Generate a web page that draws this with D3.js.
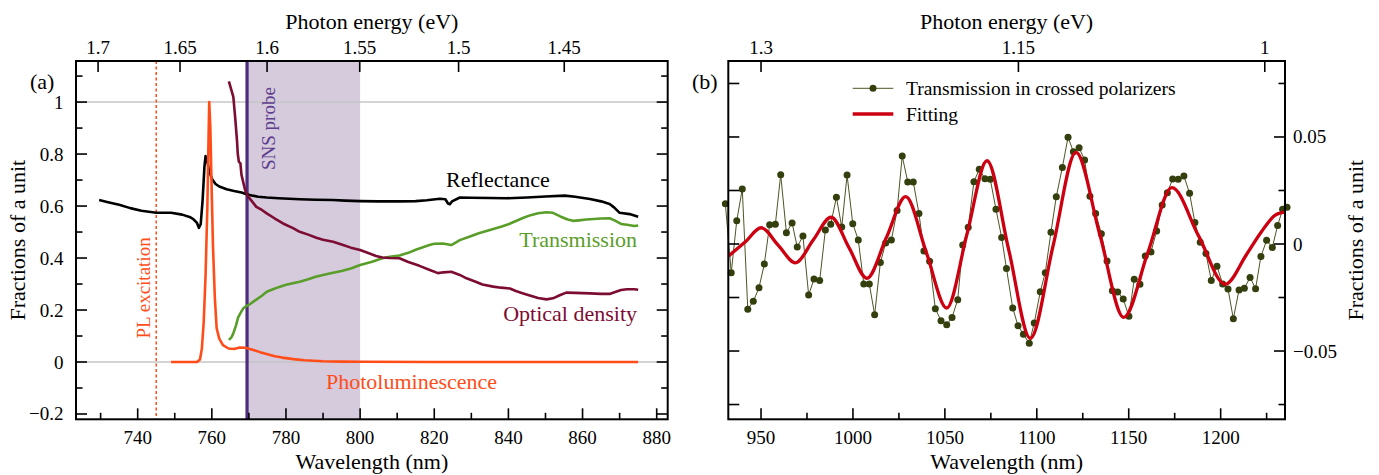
<!DOCTYPE html>
<html>
<head>
<meta charset="utf-8">
<script src="https://cdn.jsdelivr.net/npm/d3@7"></script>
<style>
  html, body { margin: 0; padding: 0; background: #fff; }
  svg, svg text { font-family: "Liberation Serif", "Times New Roman", serif; }
  svg { display: block; }
</style>
</head>
<body>
<svg id="chart" width="1379" height="475"></svg>
<script>
// ---------- Panel (a): spectra, [wavelength nm, fraction] ----------
const reflectance = [
  [729.6,0.623],[732,0.615],[735,0.605],[738,0.592],[741,0.582],[745,0.574],[749,0.574],
  [752,0.567],[754,0.558],[755,0.55],[756,0.535],[756.5,0.516],[757,0.53],[757.5,0.62],
  [758,0.75],[758.3,0.792],[758.7,0.78],[759.2,0.74],[760,0.705],[761,0.685],[762,0.675],
  [764,0.665],[766,0.658],[768,0.652],[769.4,0.645],[771,0.64],[772.5,0.636],[774.8,0.633],
  [778,0.63],[783.7,0.626],[788,0.624],[792.6,0.623],[796,0.621],[800,0.619],[805,0.618],
  [810.7,0.618],[815,0.619],[818,0.622],[821.5,0.628],[823,0.626],[823.7,0.61],[824.2,0.607],
  [824.8,0.618],[826.9,0.633],[830,0.632],[835,0.631],[839.5,0.63],[845,0.633],[850,0.637],
  [855.2,0.64],[858,0.636],[862,0.627],[865,0.618],[867.3,0.608],[868.5,0.595],[870,0.574],
  [872.7,0.569],[875,0.559]
];
const transmission = [
  [764.6,0.085],[765.3,0.095],[765.8,0.11],[766.5,0.14],[767.1,0.172],[767.8,0.19],[768.5,0.207],
  [769.3,0.215],[770.3,0.223],[772,0.24],[773.5,0.255],[774.8,0.27],[776.5,0.28],[778,0.288],
  [780,0.297],[783.7,0.309],[786,0.318],[788,0.328],[790,0.335],[792.7,0.343],[795,0.35],
  [797.5,0.36],[800,0.373],[803,0.385],[806,0.399],[808,0.405],[810.6,0.41],[813,0.42],
  [815,0.432],[818.7,0.45],[820,0.455],[822.3,0.456],[824.6,0.45],[826.9,0.469],[830,0.485],
  [832,0.495],[835,0.508],[838,0.52],[840,0.53],[843.9,0.554],[846,0.565],[848,0.572],
  [850.2,0.576],[852,0.574],[854,0.56],[856,0.548],[857.4,0.543],[859,0.545],[861,0.548],
  [863,0.55],[865,0.552],[867.3,0.553],[868.5,0.546],[870.4,0.531],[872,0.528],[874,0.523],
  [875,0.525]
];
const opticalDensity = [
  [764.6,1.08],[765.2,1.05],[765.8,1.02],[766.3,0.94],[766.8,0.85],[767,0.8],[767.3,0.77],
  [767.7,0.765],[768,0.72],[768.5,0.69],[769,0.66],[769.8,0.636],[771,0.615],[772,0.597],
  [773.5,0.585],[774.8,0.572],[777,0.552],[779.2,0.533],[781.9,0.515],[783.7,0.501],[786,0.49],
  [788.2,0.478],[790,0.47],[792.7,0.463],[795,0.452],[797.5,0.44],[800,0.431],[802,0.42],
  [804.3,0.408],[806,0.402],[808,0.4],[810.6,0.399],[813,0.385],[816,0.37],[818.8,0.354],
  [821,0.342],[822.5,0.345],[824.6,0.347],[826.9,0.335],[828.7,0.322],[831,0.31],[833,0.298],
  [835.9,0.29],[838,0.286],[840.4,0.283],[842,0.273],[844,0.264],[846,0.255],[848,0.246],
  [850.3,0.241],[852,0.245],[854,0.258],[855.6,0.267],[858,0.266],[862,0.264],[865,0.262],
  [867.3,0.262],[869,0.27],[870.4,0.277],[872,0.28],[874,0.28],[875,0.278]
];
const photoluminescence = [
  [749,0],[756,0],[756.8,0.01],[757.3,0.05],[757.8,0.15],[758.3,0.33],[758.8,0.6],[759.1,0.85],
  [759.3,1.0],[759.6,0.9],[759.9,0.7],[760.3,0.45],[760.8,0.25],[761.3,0.13],[762,0.09],
  [763,0.065],[764.5,0.052],[766,0.05],[767.5,0.056],[769,0.055],[771,0.047],[773,0.038],
  [775,0.03],[777,0.022],[779,0.017],[782,0.011],[785,0.007],[790,0.003],[795,0.0015],
  [800,0.001],[820,0],[875,0]
];
const plExcitationNm = 745;
const snsProbeNm = [769.5, 800];   // probe line and end of the probed band

const aWaveTicks = [740, 760, 780, 800, 820, 840, 860, 880];
const aWaveMinor = [730, 750, 770, 790, 810, 830, 850, 870];
const aEnergyTicks = [1.7, 1.65, 1.6, 1.55, 1.5, 1.45];
const aValueTicks = [-0.2, 0, 0.2, 0.4, 0.6, 0.8, 1];
const aValueMinor = [-0.1, 0.1, 0.3, 0.5, 0.7, 0.9, 1.1];
const aGridValues = [0, 1];

// ---------- Panel (b): transmission in crossed polarizers ----------
const crossedNm = [
  930.6,933.8,936.8,939.8,942.8,945.8,948.9,951.8,954.7,957.8,960.7,963.8,966.9,969.7,972.8,
  975.9,978.8,981.9,985.0,987.9,991.0,993.9,996.8,999.9,1002.9,1005.9,1008.9,1011.8,1014.9,
  1017.8,1020.9,1024.0,1026.8,1029.8,1032.8,1035.9,1038.6,1041.7,1044.8,1047.9,1051.0,1053.9,
  1057.0,1059.7,1062.7,1065.8,1068.7,1071.8,1074.7,1077.8,1080.9,1083.5,1086.9,1089.8,1092.7,
  1095.9,1098.6,1101.9,1104.6,1107.7,1110.6,1113.9,1117.0,1119.9,1123.0,1126.0,1128.9,1132.0,
  1135.1,1138.2,1141.1,1144.0,1147.0,1150.1,1153.0,1156.1,1159.0,1162.1,1165.2,1168.2,1171.0,
  1173.9,1176.9,1180.0,1183.1,1186.0,1188.9,1192.0,1194.9,1198.0,1201.1,1204.0,1206.9,1210.0,
  1212.9,1216.0,1219.0,1221.9,1225.0,1228.1,1231.0,1233.7,1236.1
];
const crossedVal = [
  0.0188,-0.0134,0.0109,0.0257,-0.0305,-0.0268,-0.0204,-0.0093,0.0090,0.0092,0.0324,0.0053,
  0.0098,-0.0014,0.0037,-0.0238,-0.0164,-0.0171,0.0065,0.0092,0.0218,0.0079,0.0322,0.0095,
  0.0019,-0.0187,-0.0187,-0.0330,-0.0087,0.0005,0.0019,0.0156,0.0411,0.0290,0.0290,0.0143,
  -0.0033,-0.0081,-0.0302,-0.0358,-0.0377,-0.0343,-0.0260,-0.0005,0.0078,0.0291,0.0349,0.0305,
  0.0302,0.0162,0.0030,-0.0114,-0.0299,-0.0382,-0.0422,-0.0464,-0.0369,-0.0223,-0.0134,0.0055,
  0.0221,0.0358,0.0499,0.0431,0.0450,0.0393,0.0223,0.0143,0.0048,-0.0079,-0.0218,-0.0224,
  -0.0257,-0.0338,-0.0165,-0.0188,-0.0056,-0.0037,0.0061,0.0182,0.0240,0.0304,0.0302,0.0318,
  0.0237,0.0100,0.0008,-0.0044,-0.0170,-0.0104,-0.0187,-0.0210,-0.0349,-0.0215,-0.0207,-0.0156,
  -0.0209,-0.0058,0.0017,-0.0016,0.0087,0.0162,0.0172
];
// fitted curve: turning points and crossings
const fitNm = [932.4,941.5,950,959.4,968.7,978.4,988.1,997.9,1007.6,1018.2,1028.7,1039.9,1051,
  1062,1072.9,1084.7,1096.5,1108.9,1121.3,1134.3,1147.3,1160.4,1173.5,1188,1202.5,1214,1222,
  1229.7,1235.1];
const fitVal = [-0.0056,0.0010,0.0076,-0.0006,-0.0088,0.0019,0.0125,-0.0018,-0.0160,0.0030,
  0.0221,-0.0039,-0.0299,0.0045,0.0389,-0.0026,-0.0441,-0.0007,0.0428,0.0043,-0.0343,-0.0040,
  0.0263,0.0038,-0.0188,-0.0050,0.0055,0.0135,0.0150];

const bWaveTicks = [950, 1000, 1050, 1100, 1150, 1200];
const bWaveMinor = [975, 1025, 1075, 1125, 1175, 1225];
const bEnergyTicks = [1.3, 1.15, 1];
const bEnergyTickNm = [950, 1090, 1224];   // top-axis calibration of panel (b)
const bValueTicks = [-0.05, 0, 0.05];
const bValueMinor = [-0.075, -0.025, 0.025, 0.075];

// ---------- colours ----------
const C = {
  refl: "#000000", trans: "#5a9e2a", od: "#7d0c32", pl: "#ff4d1a",
  probe: "#4b2c7d", probeText: "#5d3e8e", band: "#d6cadd", grid: "#c6c6c6",
  dots: "#333f0c", dotLine: "#4d5525", fit: "#cc0010"
};

// ---------- layout ----------
const A = { l: 76, r: 667.7, t: 61, b: 419.3 };
const B = { l: 728.3, r: 1285, t: 61, b: 419.3 };
const TICK = 11, MINOR = 6.5;
const FONT = "Liberation Serif, Times New Roman, serif";
const fmt = d3.format("~g");

const svg = d3.select("#chart").attr("font-family", FONT);

const xA = d3.scaleLinear().domain([723.36, 882.97]).range([A.l, A.r]);
const yA = d3.scaleLinear().domain([-0.2204, 1.158]).range([A.b, A.t]);
const xB = d3.scaleLinear().domain([932.2, 1235]).range([B.l, B.r]);
const yB = d3.scaleLinear().domain([-0.0819, 0.0855]).range([B.b, B.t]);
const HC = 1239.84;                       // eV·nm
const eB = d3.scaleLinear().domain(bEnergyTicks).range(bEnergyTickNm);

function vTicks(g, vals, y0, dir, len, xs) {
  g.selectAll(null).data(vals).join("line")
    .attr("x1", d => xs(d)).attr("x2", d => xs(d))
    .attr("y1", y0).attr("y2", y0 + dir * len)
    .attr("stroke", "#000").attr("stroke-width", 1.6);
}
function hTicks(g, vals, x0, dir, len, ys) {
  g.selectAll(null).data(vals).join("line")
    .attr("y1", d => ys(d)).attr("y2", d => ys(d))
    .attr("x1", x0).attr("x2", x0 + dir * len)
    .attr("stroke", "#000").attr("stroke-width", 1.6);
}

// ================= Panel (a) =================
const ga = svg.append("g");

// probed band
ga.append("rect")
  .attr("x", xA(snsProbeNm[0])).attr("y", A.t)
  .attr("width", xA(snsProbeNm[1]) - xA(snsProbeNm[0])).attr("height", A.b - A.t)
  .attr("fill", C.band);

// reference lines at 0 and 1
ga.selectAll(null).data(aGridValues).join("line")
  .attr("x1", A.l).attr("x2", A.r)
  .attr("y1", d => yA(d)).attr("y2", d => yA(d))
  .attr("stroke", C.grid).attr("stroke-width", 1.5);

// PL excitation wavelength
ga.append("line")
  .attr("x1", xA(plExcitationNm)).attr("x2", xA(plExcitationNm))
  .attr("y1", A.t).attr("y2", A.b)
  .attr("stroke", C.pl).attr("stroke-width", 1.5).attr("stroke-dasharray", "3,2.5");

// SNS probe wavelength
ga.append("line")
  .attr("x1", xA(snsProbeNm[0])).attr("x2", xA(snsProbeNm[0]))
  .attr("y1", A.t).attr("y2", A.b)
  .attr("stroke", C.probe).attr("stroke-width", 3.2);

const lineA = d3.line().x(d => xA(d[0])).y(d => yA(d[1]));
[[reflectance, C.refl], [transmission, C.trans], [opticalDensity, C.od], [photoluminescence, C.pl]]
  .forEach(([data, col]) => {
    ga.append("path").datum(data).attr("d", lineA)
      .attr("fill", "none").attr("stroke", col).attr("stroke-width", 2.6)
      .attr("stroke-linejoin", "round");
  });

// frame and ticks
ga.append("rect").attr("x", A.l).attr("y", A.t).attr("width", A.r - A.l).attr("height", A.b - A.t)
  .attr("fill", "none").attr("stroke", "#000").attr("stroke-width", 2);
vTicks(ga, aWaveTicks, A.b, -1, TICK, xA);
vTicks(ga, aWaveMinor, A.b, -1, MINOR, xA);
vTicks(ga, aEnergyTicks, A.t, 1, TICK, e => xA(HC / e));
hTicks(ga, aValueTicks, A.l, 1, TICK, yA);
hTicks(ga, aValueMinor, A.l, 1, MINOR, yA);
hTicks(ga, aValueTicks, A.r, -1, TICK, yA);
hTicks(ga, aValueMinor, A.r, -1, MINOR, yA);

function label(g, x, y, txt, size, opts = {}) {
  const t = g.append("text").attr("x", x).attr("y", y)
    .attr("font-family", FONT).attr("font-size", size)
    .attr("text-anchor", opts.anchor || "start")
    .attr("fill", opts.fill || "#000").text(txt);
  if (opts.rotate) t.attr("transform", `rotate(-90,${x},${y})`);
  return t;
}

// tick labels
aWaveTicks.forEach(d => label(ga, xA(d), 443.5, d, 19, { anchor: "middle" }));
aEnergyTicks.forEach(d => label(ga, xA(HC / d), 53.5, fmt(d), 19, { anchor: "middle" }));
aValueTicks.forEach(d => label(ga, 63.5, yA(d) + 6.5, fmt(d), 19, { anchor: "end" }));

// titles
label(ga, (A.l + A.r) / 2, 469, "Wavelength (nm)", 22, { anchor: "middle" });
label(ga, (A.l + A.r) / 2, 28.5, "Photon energy (eV)", 22, { anchor: "middle" });
label(ga, 25, (A.t + A.b) / 2, "Fractions of a unit", 22, { anchor: "middle", rotate: true });
label(ga, 30, 88.5, "(a)", 22);

// curve labels
label(ga, 446, 187, "Reflectance", 22, { fill: C.refl });
label(ga, 637, 247, "Transmission", 22, { anchor: "end", fill: C.trans });
label(ga, 637, 321, "Optical density", 22, { anchor: "end", fill: C.od });
label(ga, 326, 388.5, "Photoluminescence", 22, { fill: C.pl });
label(ga, 150, 338.5, "PL excitation", 19, { fill: C.pl, rotate: true });
label(ga, 274.5, 170, "SNS probe", 19, { fill: C.probeText, rotate: true });

// ================= Panel (b) =================
const gb = svg.append("g");

const crossed = crossedNm.map((nm, i) => [nm, crossedVal[i]]);
const fit = fitNm.map((nm, i) => [nm, fitVal[i]]);

gb.append("path").datum(crossed)
  .attr("d", d3.line().x(d => xB(d[0])).y(d => yB(d[1])))
  .attr("fill", "none").attr("stroke", C.dotLine).attr("stroke-width", 1);
gb.selectAll(null).data(crossed).join("circle")
  .attr("cx", d => xB(d[0])).attr("cy", d => yB(d[1])).attr("r", 3.5)
  .attr("fill", C.dots);
gb.append("path").datum(fit)
  .attr("d", d3.line().curve(d3.curveMonotoneX).x(d => xB(d[0])).y(d => yB(d[1])))
  .attr("fill", "none").attr("stroke", C.fit).attr("stroke-width", 3.3);

gb.append("rect").attr("x", B.l).attr("y", B.t).attr("width", B.r - B.l).attr("height", B.b - B.t)
  .attr("fill", "none").attr("stroke", "#000").attr("stroke-width", 2);
vTicks(gb, bWaveTicks, B.b, -1, TICK, xB);
vTicks(gb, bWaveMinor, B.b, -1, MINOR, xB);
vTicks(gb, bEnergyTicks, B.t, 1, TICK, e => xB(eB(e)));
hTicks(gb, bValueTicks.concat(bValueMinor), B.l, 1, TICK, yB);
hTicks(gb, bValueTicks, B.r, -1, TICK, yB);
hTicks(gb, bValueMinor, B.r, -1, MINOR, yB);

bWaveTicks.forEach(d => label(gb, xB(d), 443.5, d, 19, { anchor: "middle" }));
bEnergyTicks.forEach(d => label(gb, xB(eB(d)), 53.5, fmt(d), 19, { anchor: "middle" }));
bValueTicks.forEach(d => label(gb, 1293, yB(d) + 6.5, fmt(d), 19));

label(gb, (B.l + B.r) / 2, 469, "Wavelength (nm)", 22, { anchor: "middle" });
label(gb, (B.l + B.r) / 2, 28.5, "Photon energy (eV)", 22, { anchor: "middle" });
label(gb, 1363, (B.t + B.b) / 2, "Fractions of a unit", 22, { anchor: "middle", rotate: true });
label(gb, 692, 88.5, "(b)", 22);

// legend
const lg = gb.append("g");
lg.append("line").attr("x1", 852.7).attr("x2", 893.3).attr("y1", 88.3).attr("y2", 88.3)
  .attr("stroke", C.dotLine).attr("stroke-width", 1);
lg.append("circle").attr("cx", 873).attr("cy", 88.3).attr("r", 3.5).attr("fill", C.dots);
label(lg, 906, 95, "Transmission in crossed polarizers", 19.5);
lg.append("line").attr("x1", 852.7).attr("x2", 893.3).attr("y1", 114).attr("y2", 114)
  .attr("stroke", C.fit).attr("stroke-width", 3.3);
label(lg, 906, 120.5, "Fitting", 19.5);
</script>
</body>
</html>
